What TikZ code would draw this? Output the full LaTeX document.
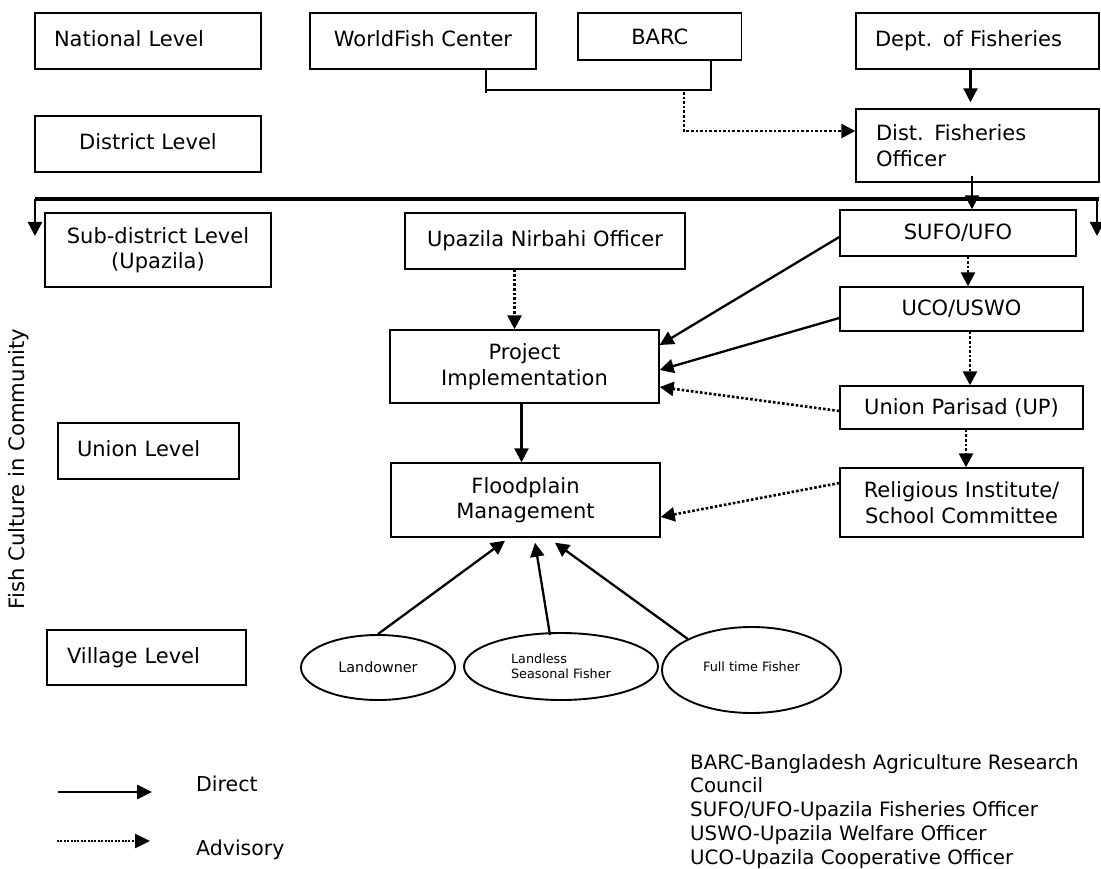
\documentclass[tikz,border=0pt]{standalone}
\usepackage{fontspec}
\setmainfont{DejaVu Sans}
\usetikzlibrary{arrows.meta,shapes.geometric}
\newcommand\mainsize{\fontsize{21}{25.5}\selectfont}
\tikzset{
  box/.style={draw, line width=1.4pt, inner sep=0pt, font=\mainsize, align=center},
  lbox/.style={box, align=left},
  ell/.style={draw, ellipse, line width=1.9pt, inner sep=0pt},
  conn/.style={line width=2.2pt},
  direct/.style={line width=2.3pt, -{Triangle[length=14pt,width=14pt]}},
  advisory/.style={line width=2.6pt, dash pattern=on 2.6pt off 2pt, -{Triangle[length=14pt,width=14pt]}},
}
\begin{document}
\begin{tikzpicture}[x=1pt,y=-1pt]
\useasboundingbox[fill=white] (0,0) rectangle (1101,869);

% level boxes
\node[lbox, minimum width=226, minimum height=56, text width=188] (nat) at (148,41) {\raisebox{4pt}{National Level}};
\node[box, minimum width=226, minimum height=56] (dst) at (148,144) {\raisebox{4pt}{District Level}};
\node[box, minimum width=226, minimum height=74] (sub) at (158,250) {Sub-district Level\\(Upazila)};
\node[lbox, minimum width=181, minimum height=56, text width=143] (uni) at (148.5,451) {\raisebox{4pt}{Union Level}};
\node[lbox, minimum width=199, minimum height=55, text width=159] (vil) at (146.5,657.5) {\raisebox{4pt}{Village Level}};

\node[rotate=90, font=\fontsize{21.2}{25}\selectfont] (fc) at (19,469) {Fish Culture in Community};

% organisations
\node[box, minimum width=226, minimum height=56] (wf) at (423,41) {\raisebox{4pt}{WorldFish Center}};
\node[box, minimum width=163.5, minimum height=47] (barc) at (659.75,36.5) {BARC};
\node[lbox, minimum width=243, minimum height=56, text width=205] (dept) at (977.5,41) {\raisebox{4pt}{Dept. of Fisheries}};
\node[lbox, minimum width=243, minimum height=73, text width=203] (dfo) at (977.5,145.5) {Dist. Fisheries\\Officer};
\node[box, minimum width=280, minimum height=56] (uno) at (545,241) {\raisebox{4pt}{Upazila Nirbahi Officer}};
\node[box, minimum width=236, minimum height=46] (sufo) at (958,233) {SUFO/UFO};
\node[box, minimum width=243, minimum height=44] (uco) at (961.5,309) {UCO/USWO};
\node[box, minimum width=243, minimum height=43] (up) at (961.5,407.5) {Union Parisad (UP)};
\node[box, minimum width=243, minimum height=69] (rel) at (961.5,502.5) {Religious Institute/\\School Committee};
\node[box, minimum width=269, minimum height=73] (proj) at (524.5,366.5) {Project\\Implementation};
\node[box, minimum width=269, minimum height=74] (flood) at (525.5,500) {Floodplain\\Management};

% village groups
\node[ell, minimum width=154, minimum height=65, font=\fontsize{14.3}{16}\selectfont] (lo) at (378,667.5) {Landowner};
\node[ell, minimum width=194, minimum height=67, align=left, font=\fontsize{12.8}{15}\selectfont] (ls) at (561,666.5) {Landless\\Seasonal Fisher};
\node[ell, minimum width=179, minimum height=86, font=\fontsize{12.8}{15}\selectfont] (ft) at (751.5,670) {\raisebox{6pt}{Full time Fisher}};

% top connectors
\coordinate (j1) at (486,90);
\coordinate (j2) at (711,90);
\coordinate (j3) at (684,92);
\draw[conn] (wf.south -| j1) -- ([yshift=-3pt]j1);
\draw[conn] (j1) -- (j2) -- (barc.south -| j2);
\draw[advisory] (j3) |- ([yshift=14.5pt]dfo.west);
\draw[direct, shorten >=6pt] ([xshift=-7pt]dept.south) -- ([xshift=-7pt]dfo.north);

% distribution line
\coordinate (tl) at (35,199);
\coordinate (tr) at (1099,199);
\coordinate (al) at (35,236);
\coordinate (ar) at (1097,236);
\draw[line width=3.8pt] (tl) -- (tr);
\draw[direct] (tl) -- (al);
\draw[direct] (tr -| ar) -- (ar);
\draw[direct] ([xshift=-5.5pt,yshift=7pt]dfo.south) -- ([xshift=-5.5pt]dfo.south |- sufo.north);

% right column
\draw[advisory] ([xshift=10pt]sufo.south) -- ([xshift=10pt]sufo.south |- uco.north);
\draw[advisory] ([xshift=8.5pt]uco.south) -- ([xshift=8.5pt]uco.south |- up.north);
\draw[advisory] ([xshift=4.5pt]up.south) -- ([xshift=4.5pt]up.south |- rel.north);

\draw[direct] ([yshift=-4pt]sufo.west) -- ([yshift=21.5pt]proj.east);
\draw[direct] ([yshift=-9pt]uco.west) -- ([yshift=-3.5pt]proj.east);
\draw[advisory] ([yshift=-3.5pt]up.west) -- ([yshift=-20.5pt]proj.east);
\draw[advisory] ([yshift=19.5pt]rel.west) -- ([yshift=-17pt]flood.east);

% centre column
\draw[advisory] ([xshift=-10pt]proj.north |- uno.south) -- ([xshift=-10pt]proj.north);
\draw[direct] ([xshift=-3pt]proj.south) -- ([xshift=-3pt]proj.south |- flood.north);

\draw[direct] (lo.north) -- ([xshift=-20.5pt,yshift=-3pt]flood.south);
\draw[direct] ([xshift=-11pt,yshift=-3pt]ls.north) -- ([xshift=9.5pt,yshift=-5pt]flood.south);
\draw[direct] (ft.154) -- ([xshift=29.5pt,yshift=-5pt]flood.south);

% legend
\coordinate (d1) at (58,792);
\coordinate (d2) at (152,792);
\coordinate (a1) at (57,841);
\coordinate (a2) at (150,841);
\draw[line width=2.7pt, -{Triangle[length=15pt,width=14pt]}] (d1) -- (d2);
\draw[line width=2.2pt, dash pattern=on 2pt off 1.4pt, -{Triangle[length=15pt,width=14pt]}] (a1) -- (a2);
\node[anchor=base west, inner sep=0pt, font=\fontsize{20.5}{24}\selectfont] (ld) at (196,791.5) {Direct};
\node[anchor=base west, inner sep=0pt, font=\fontsize{20.5}{24}\selectfont] (la) at (196,855.5) {Advisory};
\node[anchor=north west, inner sep=0pt, align=left, font=\fontsize{19.8}{23.7}\selectfont] (abbr) at (690,754)
  {BARC-Bangladesh Agriculture Research\\Council\\SUFO/UFO-Upazila Fisheries Officer\\USWO-Upazila Welfare Officer\\UCO-Upazila Cooperative Officer};
\end{tikzpicture}
\end{document}
